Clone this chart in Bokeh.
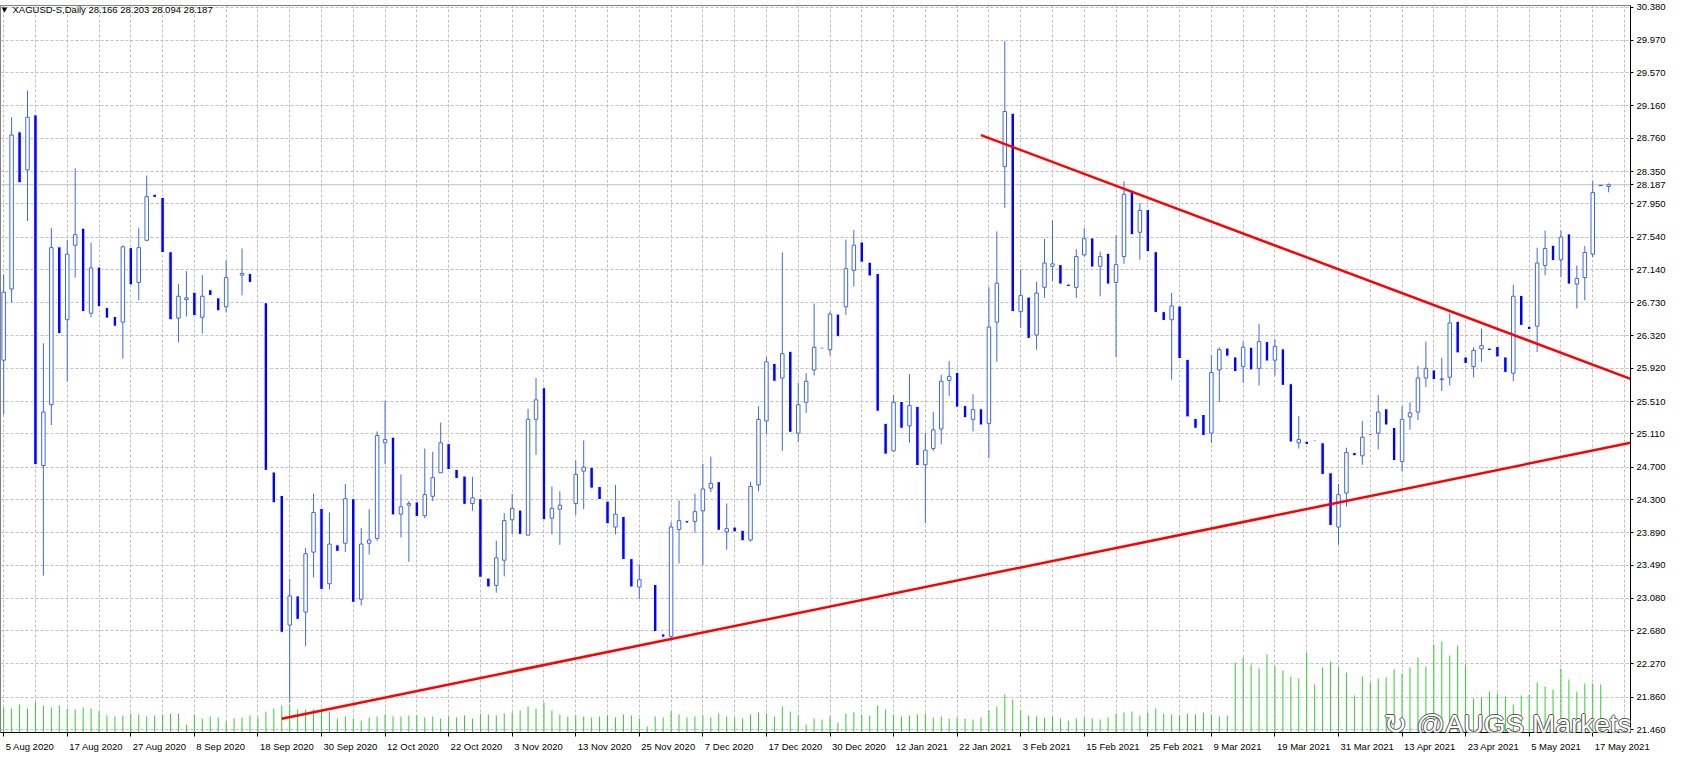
from bokeh.plotting import figure
from bokeh.models import (ColumnDataSource, Range1d, FixedTicker, Span, Label,
                          PrintfTickFormatter)
from bokeh.embed import file_html
from bokeh.resources import INLINE

# ---------------- data (daily bars, 5 Aug 2020 .. 19 May 2021) ----------------
opens = [
    26.02, 26.90, 28.84, 28.37, 29.05, 24.72, 25.47, 27.42, 26.52, 27.44,
    27.65, 26.60, 27.17, 26.67, 26.56, 26.49, 27.41, 26.98, 27.50, 28.07,
    28.03, 27.36, 26.54, 26.77, 26.86, 26.55, 26.89, 26.79, 26.68, 27.05,
    27.07, 27.09, 26.85, 26.73, 24.64, 24.35, 22.75, 23.11, 22.91, 23.65,
    24.19, 23.26, 23.74, 23.76, 24.31, 23.07, 23.76, 23.82, 25.00, 25.07,
    24.12, 24.23, 24.27, 24.10, 24.34, 24.63, 24.99, 24.67, 24.59, 24.25,
    24.31, 23.33, 23.24, 23.55, 24.05, 24.17, 23.86, 25.29, 25.68, 24.07,
    24.18, 24.24, 24.25, 24.65, 24.70, 24.46, 24.28, 23.96, 24.09, 23.57,
    23.22, 23.28, 23.25, 22.64, 22.61, 23.93, 24.04, 24.03, 24.16, 24.44,
    24.52, 23.90, 23.96, 23.92, 23.80, 24.48, 25.27, 25.98, 25.80, 26.13,
    25.12, 25.50, 25.90, 26.18, 26.15, 26.59, 26.68, 27.13, 27.48, 27.23,
    27.09, 25.24, 24.90, 25.51, 25.21, 25.45, 24.73, 24.93, 25.17, 25.77,
    25.87, 25.46, 25.29, 25.42, 25.24, 26.49, 28.41, 29.07, 26.62, 26.80,
    26.33, 26.92, 27.18, 27.20, 26.96, 26.92, 27.32, 27.53, 27.18, 27.34,
    26.98, 27.30, 28.12, 27.60, 27.88, 27.36, 26.62, 26.52, 26.69, 26.03,
    25.30, 25.35, 25.12, 25.90, 26.17, 26.06, 25.94, 26.18, 25.92, 26.25,
    26.02, 26.16, 25.73, 25.00, 25.02, 25.034, 25.00, 24.63, 23.96, 24.38,
    24.88, 24.84, 25.11, 25.12, 25.42, 25.19, 24.77, 25.32, 25.38, 25.80,
    25.90, 25.78, 25.81, 26.50, 26.06, 25.94, 26.16, 26.17, 26.19, 26.06,
    25.86, 26.82, 26.44, 26.44, 27.19, 27.44, 27.26, 27.58, 26.96, 27.04,
    27.33, 28.175, 28.166,
]
highs = [
    27.08, 29.02, 28.84, 29.35, 29.05, 26.23, 27.65, 27.42, 27.50, 28.39,
    27.65, 27.47, 27.17, 26.67, 26.56, 27.44, 27.41, 27.65, 28.30, 28.07,
    28.03, 27.36, 26.96, 27.12, 26.86, 27.07, 26.89, 26.79, 27.25, 27.05,
    27.40, 27.09, 26.85, 26.73, 24.64, 24.35, 23.32, 23.11, 23.70, 24.37,
    24.19, 24.14, 23.74, 24.49, 24.31, 23.95, 24.18, 25.14, 25.52, 25.07,
    24.61, 24.28, 24.27, 24.93, 24.89, 25.25, 24.99, 24.67, 24.59, 24.58,
    24.31, 23.33, 23.79, 24.13, 24.37, 24.17, 25.42, 25.80, 25.68, 24.46,
    24.40, 24.24, 24.78, 25.03, 24.70, 24.46, 24.28, 24.48, 24.09, 23.57,
    23.50, 23.28, 23.25, 22.64, 24.02, 24.29, 24.04, 24.37, 24.74, 24.83,
    24.52, 24.25, 23.96, 23.92, 24.52, 25.45, 26.06, 25.98, 27.35, 26.13,
    25.74, 25.86, 26.72, 26.18, 26.62, 26.59, 27.51, 27.63, 27.48, 27.23,
    27.09, 25.24, 25.59, 25.51, 25.85, 25.45, 25.12, 25.38, 25.84, 26.01,
    25.87, 25.46, 25.60, 25.42, 26.92, 27.61, 29.96, 29.07, 27.14, 26.80,
    26.99, 27.52, 27.75, 27.20, 26.96, 27.39, 27.65, 27.53, 27.36, 27.34,
    27.56, 28.23, 28.12, 27.96, 27.88, 27.36, 26.62, 26.85, 26.69, 26.03,
    25.30, 25.35, 26.08, 26.18, 26.17, 26.06, 26.25, 26.18, 26.47, 26.25,
    26.28, 26.16, 25.73, 25.33, 25.02, 25.034, 25.00, 24.63, 24.49, 24.94,
    24.88, 25.27, 25.11, 25.59, 25.42, 25.19, 25.45, 25.50, 25.95, 26.25,
    25.90, 26.05, 26.60, 26.50, 26.06, 26.18, 26.41, 26.17, 26.19, 26.06,
    26.95, 26.82, 26.44, 27.41, 27.62, 27.44, 27.62, 27.58, 27.19, 27.43,
    28.23, 28.18, 28.203,
]
lows = [
    25.35, 26.73, 28.21, 27.74, 24.73, 23.36, 25.22, 26.35, 25.76, 27.04,
    26.62, 26.55, 26.68, 26.54, 26.44, 26.04, 26.95, 26.76, 27.50, 28.03,
    27.35, 26.52, 26.24, 26.56, 26.57, 26.35, 26.82, 26.63, 26.61, 27.05,
    26.82, 26.98, 26.85, 24.66, 24.26, 22.66, 21.79, 22.82, 22.49, 23.34,
    23.19, 23.19, 23.66, 23.65, 23.03, 22.99, 23.62, 23.79, 24.74, 24.11,
    23.83, 23.53, 24.09, 24.07, 24.28, 24.63, 24.67, 24.56, 24.24, 24.16,
    23.34, 23.22, 23.15, 23.35, 23.87, 23.87, 23.86, 24.85, 24.05, 23.87,
    23.74, 24.24, 24.11, 24.18, 24.44, 24.30, 24.00, 23.87, 23.56, 23.22,
    23.07, 23.28, 22.67, 22.60, 22.56, 23.51, 24.01, 23.89, 23.49, 24.39,
    23.92, 23.68, 23.90, 23.79, 23.78, 24.40, 25.11, 25.76, 24.90, 25.13,
    25.01, 25.37, 25.83, 26.16, 26.08, 26.31, 26.58, 26.93, 27.23, 27.06,
    25.39, 24.86, 24.89, 25.18, 25.00, 24.72, 24.01, 24.90, 24.98, 25.58,
    25.44, 25.31, 25.14, 25.22, 24.81, 26.00, 27.90, 26.62, 26.42, 26.29,
    26.15, 26.79, 27.00, 26.96, 26.93, 26.79, 27.30, 27.17, 26.81, 26.96,
    26.06, 27.21, 27.57, 27.26, 27.36, 26.61, 26.51, 25.78, 26.04, 25.32,
    25.18, 25.09, 25.00, 25.50, 26.07, 25.88, 25.74, 25.90, 25.71, 26.01,
    25.83, 25.71, 25.01, 24.93, 24.98, 25.02, 24.61, 23.98, 23.74, 24.21,
    24.84, 24.73, 25.09, 24.92, 25.22, 24.78, 24.65, 25.16, 25.28, 25.69,
    25.78, 25.64, 25.71, 26.11, 25.98, 25.81, 26.00, 26.14, 26.06, 25.87,
    25.76, 26.45, 26.40, 26.12, 27.07, 27.25, 27.05, 26.96, 26.66, 26.76,
    27.29, 28.175, 28.094,
]
closes = [
    26.86, 28.80, 28.21, 29.02, 24.73, 25.38, 27.41, 26.35, 27.33, 27.57,
    26.62, 27.16, 26.68, 26.54, 26.44, 27.42, 26.95, 27.41, 28.04, 28.03,
    27.35, 26.52, 26.81, 26.79, 26.57, 26.81, 26.82, 26.63, 27.04, 27.05,
    27.09, 26.98, 26.85, 24.66, 24.26, 22.66, 23.11, 22.82, 23.63, 24.14,
    23.19, 23.75, 23.66, 24.31, 23.03, 23.75, 23.80, 25.09, 25.04, 24.11,
    24.21, 24.25, 24.09, 24.36, 24.57, 25.00, 24.67, 24.56, 24.24, 24.32,
    23.34, 23.22, 23.58, 24.04, 24.19, 23.87, 25.29, 25.53, 24.05, 24.19,
    24.23, 24.24, 24.61, 24.70, 24.44, 24.30, 24.00, 24.12, 23.56, 23.22,
    23.31, 23.28, 22.67, 22.60, 23.96, 24.04, 24.01, 24.15, 24.43, 24.50,
    23.92, 23.94, 23.90, 23.79, 24.46, 25.29, 26.00, 25.76, 26.10, 25.13,
    25.47, 25.76, 26.18, 26.16, 26.59, 26.31, 27.15, 27.44, 27.23, 27.06,
    25.39, 24.86, 25.50, 25.18, 25.46, 24.72, 24.91, 25.16, 25.76, 25.82,
    25.44, 25.31, 25.41, 25.22, 26.43, 26.97, 29.09, 26.62, 26.82, 26.29,
    26.85, 27.22, 27.21, 26.96, 26.93, 27.30, 27.52, 27.17, 27.30, 26.96,
    27.20, 28.07, 27.57, 27.87, 27.36, 26.61, 26.51, 26.69, 26.04, 25.32,
    25.18, 25.09, 25.87, 26.15, 26.07, 25.88, 26.18, 25.90, 26.25, 26.01,
    26.19, 25.71, 25.01, 25.04, 24.98, 25.02, 24.61, 23.98, 24.36, 24.88,
    24.84, 25.07, 25.09, 25.38, 25.22, 24.78, 25.29, 25.37, 25.80, 25.92,
    25.78, 25.79, 26.48, 26.11, 25.98, 26.14, 26.20, 26.14, 26.06, 25.87,
    26.81, 26.45, 26.40, 27.22, 27.40, 27.25, 27.54, 26.96, 27.03, 27.35,
    28.09, 28.18, 28.187,
]
# tick volume (thousands)
volumes = [
    25, 24, 28, 24, 30, 27, 25, 27, 24, 23,
    25, 24, 21, 17, 16, 17, 19, 18, 16, 17,
    18, 19, 19, 8, 18, 14, 16, 15, 11, 14,
    15, 17, 15, 21, 24, 27, 28, 23, 23, 23,
    23, 21, 14, 16, 14, 12, 15, 16, 18, 16,
    16, 17, 17, 15, 16, 14, 16, 15, 17, 14,
    19, 18, 17, 19, 20, 22, 26, 24, 30, 22,
    18, 16, 17, 16, 15, 16, 17, 15, 18, 17,
    14, 6, 16, 15, 21, 18, 15, 16, 17, 15,
    19, 16, 15, 14, 18, 20, 19, 16, 26, 21,
    17, 8, 14, 13, 16, 10, 19, 20, 18, 17,
    27, 23, 18, 16, 17, 18, 19, 15, 16, 14,
    15, 14, 13, 15, 22, 26, 38, 33, 22, 17,
    16, 15, 16, 14, 12, 14, 15, 14, 13, 15,
    19, 20, 21, 17, 20, 24, 19, 18, 17, 19,
    18, 20, 18, 16, 17, 70, 75, 68, 64, 78,
    66, 62, 56, 54, 80, 48, 65, 71, 65, 60,
    37, 56, 50, 54, 55, 63, 59, 65, 75, 66,
    88, 91, 77, 87, 68, 34, 35, 41, 39, 36,
    28, 37, 38, 50, 46, 43, 64, 53, 41, 49,
    49, 48, 3,
]
date_ticks = list(range(0, 201, 8))
date_labels = [
    "5 Aug 2020", "17 Aug 2020", "27 Aug 2020", "8 Sep 2020", "18 Sep 2020",
    "30 Sep 2020", "12 Oct 2020", "22 Oct 2020", "3 Nov 2020", "13 Nov 2020",
    "25 Nov 2020", "7 Dec 2020", "17 Dec 2020", "30 Dec 2020", "12 Jan 2021",
    "22 Jan 2021", "3 Feb 2021", "15 Feb 2021", "25 Feb 2021", "9 Mar 2021",
    "19 Mar 2021", "31 Mar 2021", "13 Apr 2021", "23 Apr 2021", "5 May 2021",
    "17 May 2021",
]
price_ticks = [21.460, 21.860, 22.270, 22.680, 23.080, 23.490, 23.890, 24.300,
               24.700, 25.110, 25.510, 25.920, 26.320, 26.730, 27.140, 27.540,
               27.950, 28.350, 28.760, 29.160, 29.570, 29.970, 30.380]
symbol = "XAGUSD-S,Daily"
last_quote = [28.166, 28.203, 28.094, 28.187]   # O H L C of the current bar
# trend lines: (bar index, price) end points
support_x = [35.0, 204.75]
support_y = [21.594, 25.00]
resist_x = [123.0, 204.75]
resist_y = [28.80, 25.79]

n = len(opens)
assert len(highs) == n and len(lows) == n and len(closes) == n and len(volumes) == n

# ---------------- figure ----------------
X0, X1 = -0.4, 204.75
Y0, Y1 = 21.423, 30.40
FW, FH = 1630, 727
px_x = FW / (X1 - X0)
px_y = FH / (Y1 - Y0)
FONT = "Liberation Sans"
FSN = 9.5
FS = f"{FSN}px"
BULL = "#4169E1"
BEAR = "#0000FF"
GRID = "#C0C0C0"

p = figure(frame_width=FW, frame_height=FH,
           x_range=Range1d(X0, X1), y_range=Range1d(Y0, Y1),
           output_backend="svg", toolbar_location=None, y_axis_location="right",
           min_border_left=0, min_border_top=5, min_border_right=0, min_border_bottom=17,
           background_fill_color="white", border_fill_color="white",
           outline_line_color="#808080")

# price scale (with the current price as an extra mark)
yax = p.yaxis[0]
yax.ticker = FixedTicker(ticks=price_ticks + [last_quote[3]])
yax.formatter = PrintfTickFormatter(format="%.3f")
yax.major_label_text_font = FONT
yax.major_label_text_font_size = FS
yax.major_label_text_color = "black"
yax.axis_line_color = "black"
yax.major_tick_line_color = "black"
yax.major_tick_out = 3
yax.major_tick_in = 0
yax.minor_tick_line_color = None
yax.major_label_standoff = 3

# time scale: labels start just right of their tick (MT4 style)
W = {" ": 278, "A": 667, "S": 667, "O": 778, "N": 722, "D": 722, "J": 500,
     "F": 611, "M": 833, "u": 556, "g": 556, "e": 556, "p": 556, "c": 500,
     "t": 278, "o": 556, "v": 500, "a": 556, "n": 556, "b": 556, "r": 333,
     "y": 500}
def text_w(s):
    return sum(W.get(ch, 556) for ch in s) * FSN / 1000.0

label_pos = [t + (2 + text_w(s) / 2) / px_x for t, s in zip(date_ticks, date_labels)]
xax = p.xaxis[0]
xax.ticker = FixedTicker(ticks=label_pos, minor_ticks=date_ticks)
xax.major_label_overrides = {pos: s for pos, s in zip(label_pos, date_labels)}
xax.major_label_text_font = FONT
xax.major_label_text_font_size = FS
xax.major_label_text_color = "black"
xax.axis_line_color = "black"
xax.major_tick_line_color = None
xax.major_tick_out = 0
xax.major_tick_in = 0
xax.major_label_standoff = 4
xax.minor_tick_line_color = "black"
xax.minor_tick_out = 4
xax.minor_tick_in = 0

p.xgrid.ticker = FixedTicker(ticks=list(range(0, n + 2, 4)))
p.ygrid.ticker = FixedTicker(ticks=price_ticks)
for g in (p.xgrid, p.ygrid):
    g.grid_line_color = GRID
    g.grid_line_dash = "3 2"
    g.grid_line_width = 1

# volume (own scale at the bottom of the window)
p.extra_y_ranges = {"vol": Range1d(0, FH)}
vsrc = ColumnDataSource(dict(x=list(range(n)), v=volumes))
p.segment(x0="x", y0=0, x1="x", y1="v", source=vsrc, y_range_name="vol",
          line_color="#32CD32", line_width=1)

# bid line
p.add_layout(Span(location=last_quote[3], dimension="width", line_color=GRID,
                  line_width=1, level="underlay"))

# candles
wick_col = []
bull = dict(x=[], top=[], bottom=[])
bear = dict(x=[], top=[], bottom=[])
for i in range(n):
    o, c = opens[i], closes[i]
    if c > o:
        wick_col.append(BULL)
        bull["x"].append(i); bull["top"].append(c); bull["bottom"].append(o)
    elif c < o:
        wick_col.append("white")
        bear["x"].append(i); bear["top"].append(o); bear["bottom"].append(c)
    else:
        wick_col.append("white")
wsrc = ColumnDataSource(dict(x=list(range(n)), h=highs, l=lows, c=wick_col))
p.segment(x0="x", y0="l", x1="x", y1="h", source=wsrc, line_color="c", line_width=1)

bw = 3.5 / px_x
p.vbar(x="x", top="top", bottom="bottom", width=bw, source=ColumnDataSource(bear),
       fill_color=BEAR, line_color="white", line_width=1)
p.vbar(x="x", top="top", bottom="bottom", width=bw, source=ColumnDataSource(bull),
       fill_color="white", line_color=BULL, line_width=1)

# trend lines
p.line(support_x, support_y, line_color="#FF0000", line_width=2.5)
p.line(resist_x, resist_y, line_color="#FF0000", line_width=2.5)

# header
p.add_layout(Label(x=X0 + 4 / px_x, y=Y1 - 4 / px_y, text="\u25BC",
                   text_font="DejaVu Sans", text_font_size="7px", text_color="black",
                   text_align="center", text_baseline="middle"))
header = symbol + "  " + " ".join(f"{v:.3f}" for v in last_quote)
p.add_layout(Label(x=X0 + 12 / px_x, y=Y1 - 4 / px_y, text=header,
                   text_font=FONT, text_font_size=FS, text_color="black",
                   text_align="left", text_baseline="middle"))

# watermark (kept inside the chart window)
wx = X0 + (1424 - 8) / px_x
lx = X0 + (1403 - 8) / px_x
wy = Y0 + 8 / px_y
for dx, dy in [(-1, 0), (1, 0), (0, -1), (0, 1)]:
    p.add_layout(Label(x=wx, y=wy, x_offset=dx, y_offset=dy, text="@AUGS Markets",
                       text_font=FONT, text_font_size="28px", text_color="#555555",
                       text_align="left", text_baseline="alphabetic"))
    p.add_layout(Label(x=lx, y=wy, x_offset=dx, y_offset=dy, text="\u21BB",
                       text_font="DejaVu Sans", text_font_size="28px", text_color="#555555",
                       text_align="center", text_baseline="alphabetic"))
p.add_layout(Label(x=wx, y=wy, text="@AUGS Markets", text_font=FONT,
                   text_font_size="28px", text_color="white",
                   text_align="left", text_baseline="alphabetic"))
p.add_layout(Label(x=lx, y=wy, text="\u21BB", text_font="DejaVu Sans",
                   text_font_size="28px", text_color="white",
                   text_align="center", text_baseline="alphabetic"))

open("out.html", "w").write(file_html(p, INLINE))
